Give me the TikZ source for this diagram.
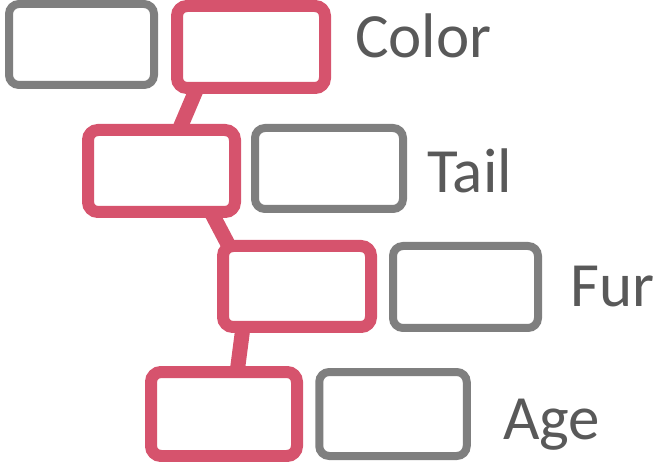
\documentclass[tikz,border=0pt]{standalone}
\usepackage{fontspec}
\setmainfont{Carlito}
\usetikzlibrary{calc,backgrounds}
\definecolor{pathpink}{HTML}{D6536D}
\definecolor{boxgray}{HTML}{7F7F7F}
\definecolor{labelgray}{HTML}{595959}
\tikzset{
  slot/.style={draw, fill=white, rounded corners=10pt, inner sep=0pt, outer sep=0pt},
  chosen/.style={slot, draw=pathpink, line width=12pt},
  other/.style={slot, draw=boxgray, line width=8pt},
  link/.style={draw=pathpink, line width=15pt},
  feature/.style={anchor=base west, inner sep=0pt, text=labelgray,
    font=\fontsize{63}{63}\selectfont}
}
\begin{document}
\begin{tikzpicture}[x=1pt,y=-1pt]
\useasboundingbox (0,0) rectangle (656,462);

% row 1: Color
\node[other,  minimum width=145pt, minimum height=81pt] (g1) at (81.5,44.5) {};
\node[chosen, minimum width=148pt, minimum height=82pt] (p1) at (251,47) {};
\node[feature] (color) at (355,58) {Color};

% row 2: Tail
\node[chosen, minimum width=147pt, minimum height=82pt] (p2) at (161.5,171) {};
\node[other,  minimum width=148pt, minimum height=81pt] (g2) at (329,168.5) {};
\node[feature] (tail) at (427,193) {Tail};

% row 3: Fur
\node[chosen, minimum width=148pt, minimum height=81pt] (p3) at (297,286.5) {};
\node[other,  minimum width=145pt, minimum height=82pt] (g3) at (465.5,287) {};
\node[feature] (fur) at (570,307) {Fur};

% row 4: Age
\node[chosen, minimum width=146pt, minimum height=84pt] (p4) at (224,414) {};
\node[other,  minimum width=147.5pt, minimum height=84pt] (g4) at (393,414) {};
\node[feature] (age) at (503,439) {Age};

% path through the chosen boxes, behind them
\begin{scope}[on background layer]
  \draw[link] ($(p1.south west)!0.135!(p1.south east)$) -- ($(p2.north west)!0.62!(p2.north east)$);
  \draw[link] ($(p2.south west)!0.837!(p2.south east)$) -- ($(p3.north west)!0.04!(p3.north east)$);
  \draw[link] ($(p3.south west)!0.135!(p3.south east)$) -- ($(p4.north west)!0.59!(p4.north east)$);
\end{scope}
\end{tikzpicture}
\end{document}
